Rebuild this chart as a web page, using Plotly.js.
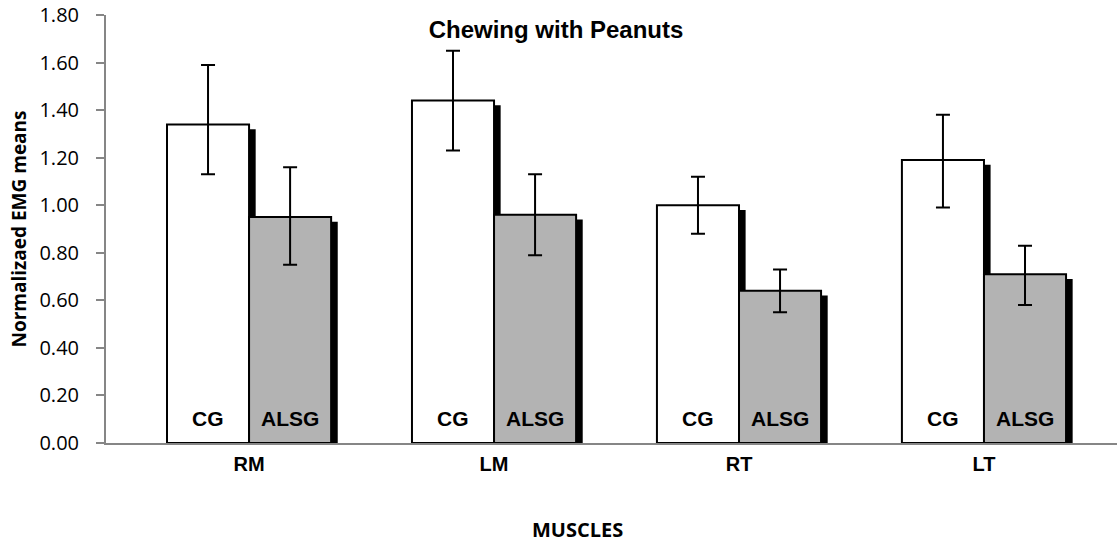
<!DOCTYPE html>
<html>
<head>
<meta charset="utf-8">
<script src="https://cdn.plot.ly/plotly-3.0.1.min.js"></script>
<style>html,body{margin:0;padding:0;background:#fff}#chart{width:1117px;height:542px}</style>
</head>
<body>
<div id="chart"></div>
<script>
// ---- data ----
const muscles = ['RM', 'LM', 'RT', 'LT'];
const groups = ['CG', 'ALSG'];
const cgMeans = [1.34, 1.44, 1.00, 1.19];
const cgErrPlus = [0.25, 0.21, 0.12, 0.19];
const cgErrMinus = [0.21, 0.21, 0.12, 0.20];
const alsgMeans = [0.95, 0.96, 0.64, 0.71];
const alsgErrPlus = [0.21, 0.17, 0.09, 0.12];
const alsgErrMinus = [0.20, 0.17, 0.09, 0.13];
const yTickVals = [0, 0.2, 0.4, 0.6, 0.8, 1.0, 1.2, 1.4, 1.6, 1.8];

// ---- styling ----
const BW = 0.335;        // bar width in category units
const SHW = 0.027;       // shadow width
const SHDROP = 0.02;     // shadow top drop (y units)
const axisGray = '#868686';
const arial = 'Liberation Sans, Arial, sans-serif';
const calibriLike = 'Open Sans, Noto Sans, sans-serif';

function shadow(vals, off) {
  return {
    type: 'bar', x: muscles, y: vals.map(v => v - SHDROP),
    offset: off, width: SHW,
    marker: {color: '#000', line: {width: 0}},
    hoverinfo: 'skip', showlegend: false
  };
}

const traces = [
  shadow(cgMeans, 0),
  shadow(alsgMeans, BW),
  {
    type: 'bar', name: groups[0], x: muscles, y: cgMeans,
    offset: -BW, width: BW,
    marker: {color: '#ffffff', line: {color: '#000', width: 2}},
    error_y: {type: 'data', symmetric: false, array: cgErrPlus, arrayminus: cgErrMinus,
              color: '#000', thickness: 2, width: 7},
    showlegend: false
  },
  {
    type: 'bar', name: groups[1], x: muscles, y: alsgMeans,
    offset: 0, width: BW,
    marker: {color: '#b3b3b3', line: {color: '#000', width: 2}},
    error_y: {type: 'data', symmetric: false, array: alsgErrPlus, arrayminus: alsgErrMinus,
              color: '#000', thickness: 2, width: 7},
    showlegend: false
  }
];

const annotations = [];
muscles.forEach((m, i) => {
  annotations.push({x: i - BW / 2, y: 0, xref: 'x', yref: 'y', text: groups[0], showarrow: false,
    yanchor: 'middle', yshift: 25, font: {family: arial, size: 21, weight: 'bold', color: '#000'}});
  annotations.push({x: i + BW / 2, y: 0, xref: 'x', yref: 'y', text: groups[1], showarrow: false,
    yanchor: 'middle', yshift: 25, font: {family: arial, size: 21, weight: 'bold', color: '#000'}});
});
annotations.push({x: 0.466, y: -0.203, xref: 'paper', yref: 'paper', text: 'MUSCLES', showarrow: false,
  xanchor: 'center', yanchor: 'middle', font: {family: calibriLike, size: 20, weight: 'bold', color: '#000'}});

const layout = {
  width: 1117, height: 542,
  margin: {l: 106, r: 0, t: 15, b: 99, pad: 0},
  paper_bgcolor: '#fff', plot_bgcolor: '#fff',
  barmode: 'overlay',
  showlegend: false,
  title: {text: 'Chewing with Peanuts', x: 556 / 1117, xref: 'container', xanchor: 'center',
          y: 1 - 30 / 542, yref: 'container', yanchor: 'middle',
          font: {family: arial, size: 24, weight: 'bold', color: '#000'}},
  xaxis: {
    type: 'category', range: [-0.584, 3.543], fixedrange: true,
    showline: true, linecolor: axisGray, linewidth: 2,
    ticks: '', showgrid: false, zeroline: false,
    ticklabelstandoff: 2,
    tickfont: {family: arial, size: 20, weight: 'bold', color: '#000'}
  },
  yaxis: {
    range: [0, 1.8], tickvals: yTickVals, tickformat: '.2f',
    showline: true, linecolor: axisGray, linewidth: 2,
    ticks: 'outside', ticklen: 8, tickwidth: 2, tickcolor: axisGray,
    showgrid: false, zeroline: false,
    ticklabelstandoff: 13,
    tickfont: {family: calibriLike, size: 20, color: '#000'},
    title: {text: 'Normalizaed EMG means', standoff: 8,
            font: {family: calibriLike, size: 19, weight: 'bold', color: '#000'}}
  },
  annotations: annotations
};

Plotly.newPlot('chart', traces, layout, {displayModeBar: false, staticPlot: true});
</script>
</body>
</html>
